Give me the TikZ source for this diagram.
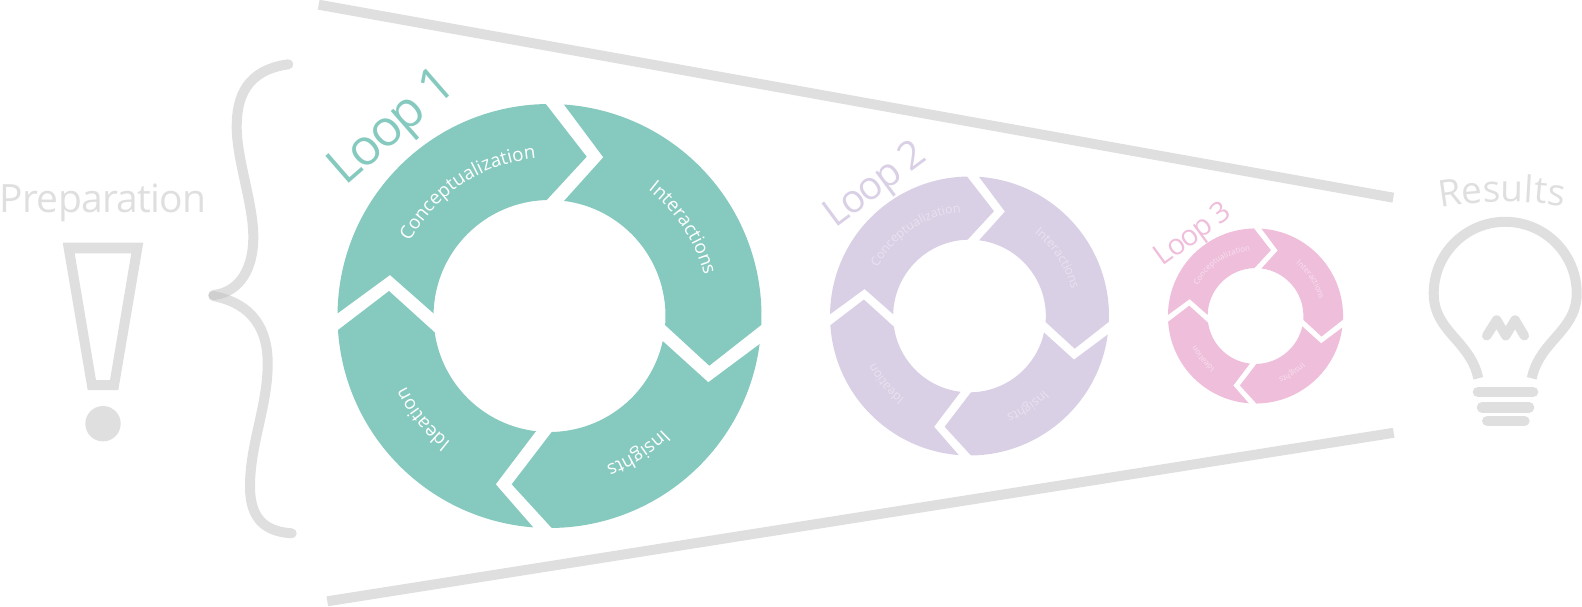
\documentclass[tikz,border=0pt]{standalone}
\usepackage{fontspec}
\setmainfont{Open Sans}
\usetikzlibrary{decorations.text}
\definecolor{loopone}{HTML}{86CABF}
\definecolor{looptwo}{HTML}{DAD0E6}
\definecolor{loopthree}{HTML}{EFBEDB}
\definecolor{texttwo}{HTML}{E8E2EF}
\definecolor{textthree}{HTML}{F8E2EE}
\definecolor{graybar}{HTML}{DFDFDF}
\tikzset{
 ringlabel/.style={decorate,decoration={text along path,text={|\ringfont|#1}}},
 looptitle/.style={anchor=base,inner sep=0,font=\fontsize{#1}{#1}\selectfont\addfontfeature{LetterSpace=-4.5}},
 graystroke/.style={draw=graybar,line width=10},
 bracepart/.style={draw=black!25,opacity=.5,line width=10,line cap=round},
}
\begin{document}
\begin{tikzpicture}[x=1pt,y=1pt]
\useasboundingbox (0,0) rectangle (1582,606);
% funnel
\draw[graystroke] (318.7,601.3)--(1393.3,408.3);
\draw[graystroke] (327.3,4.7)--(1393.7,173.2);
% the three loops
\foreach \cx/\rs/\fs/\lcol/\tcol in {549.5/1/18.8/loopone/white,969.5/.658/12.4/looptwo/texttwo,1255.5/.413/7.8/loopthree/textthree} {
 \begin{scope}[shift={(\cx,290)},scale=\rs]
 \def\ringfont{\fontsize{\fs}{\fs}\selectfont\color{\tcol}}
 \fill[\lcol] (91:212) -- (37.2,159.3) -- (91.4:116) arc[start angle=91.4,end angle=178.7,radius=116] -- (-159.5,41) -- (179.3:212) arc[start angle=179.3,end angle=91,radius=212] -- cycle;
 \fill[\lcol] (86.1:212) -- (53.8,158.7) -- (82.8:116) arc[start angle=82.8,end angle=-4.5,radius=116] -- (159.8,-49.7) -- (-2.4:212) arc[start angle=-2.4,end angle=86.1,radius=212] -- cycle;
 \fill[\lcol] (-7.6:212) -- (158.8,-66.3) -- (-12.5:116) arc[start angle=-12.5,end angle=-88.9,radius=116] -- (-37.8,-168.3) -- (-89.4:212) arc[start angle=-89.4,end angle=-7.6,radius=212] -- cycle;
 \fill[\lcol] (-94.4:212) -- (-53.8,-168.3) -- (-96.7:116) arc[start angle=-96.7,end angle=-171.9,radius=116] -- (-160.5,25) -- (-176.2:212) arc[start angle=-176.2,end angle=-94.4,radius=212] -- cycle;
 \path[ringlabel=Conceptualization] (152:158) arc[start angle=152,end angle=70,radius=158];
 \path[ringlabel=Interactions] (52:160) arc[start angle=52,end angle=-10,radius=160];
 \path[ringlabel=Insights] (-45:160) arc[start angle=-45,end angle=-90,radius=160];
 \path[ringlabel=Ideation] (-128:160) arc[start angle=-128,end angle=-175,radius=160];
 \end{scope}
}
\node[looptitle=50,loopone,rotate=41] (title1) at (402,468.5) {Loop 1};
\node[looptitle=39,looptwo,rotate=36.5] (title2) at (882,412) {Loop 2};
\node[looptitle=29,loopthree,rotate=36] (title3) at (1198,364.7) {Loop 3};
% preparation
\node[anchor=base,inner sep=0,graybar,font=\fontsize{39}{39}\selectfont\addfontfeature{LetterSpace=-2}] (prep) at (103,393) {Preparation};
\fill[graybar,even odd rule] (62.7,363.3)--(143.3,363.3)--(118.3,216)--(87.7,216)--cycle (74.7,352.7)--(131.3,352.7)--(110,226)--(96,226)--cycle;
\fill[graybar] (103,182.3) circle (17.7);
\draw[bracepart] (288.3,541.7) .. controls (246.7,536) and (236.7,509.3) .. (236.7,479.3) .. controls (236.7,446) and (253.3,402.7) .. (253.3,369.3) .. controls (253.3,329.3) and (233.3,312.7) .. (213.3,311);
\draw[bracepart] (213.3,310) .. controls (243.3,304.3) and (267.7,286) .. (267.7,242.7) .. controls (267.7,199.3) and (250,162.7) .. (250,119.3) .. controls (250,89.3) and (263.3,74.3) .. (291.7,72.7);
% results
\def\ringfont{\fontsize{37}{37}\selectfont\color{graybar}}
\path[ringlabel=Results] ([shift={(1506,24)}]100:380) arc[start angle=100,end angle=75,radius=380];
\draw[graystroke] (1478.3,227.7) .. controls (1475,242.7) and (1468.3,252.7) .. (1455,267.7) .. controls (1441.7,282.7) and (1433.7,294.3) .. (1433.7,312.7) arc[start angle=180,end angle=0,radius=71.5] .. controls (1576.7,294.3) and (1568.3,282.7) .. (1555,267.7) .. controls (1541.7,252.7) and (1535,242.7) .. (1531.7,227.7);
\draw[graybar,line width=9.5,line cap=round,line join=round] (1486.7,270.3)--(1496.7,286)--(1505.7,270.3)--(1515,286)--(1524.3,270.3);
\foreach \xa/\xb/\yb in {1478/1533/214,1482/1529/198.7,1487.3/1524.4/185} {
 \draw[graybar,line width=10.6,line cap=round] (\xa,\yb)--(\xb,\yb);
}
\end{tikzpicture}
\end{document}
